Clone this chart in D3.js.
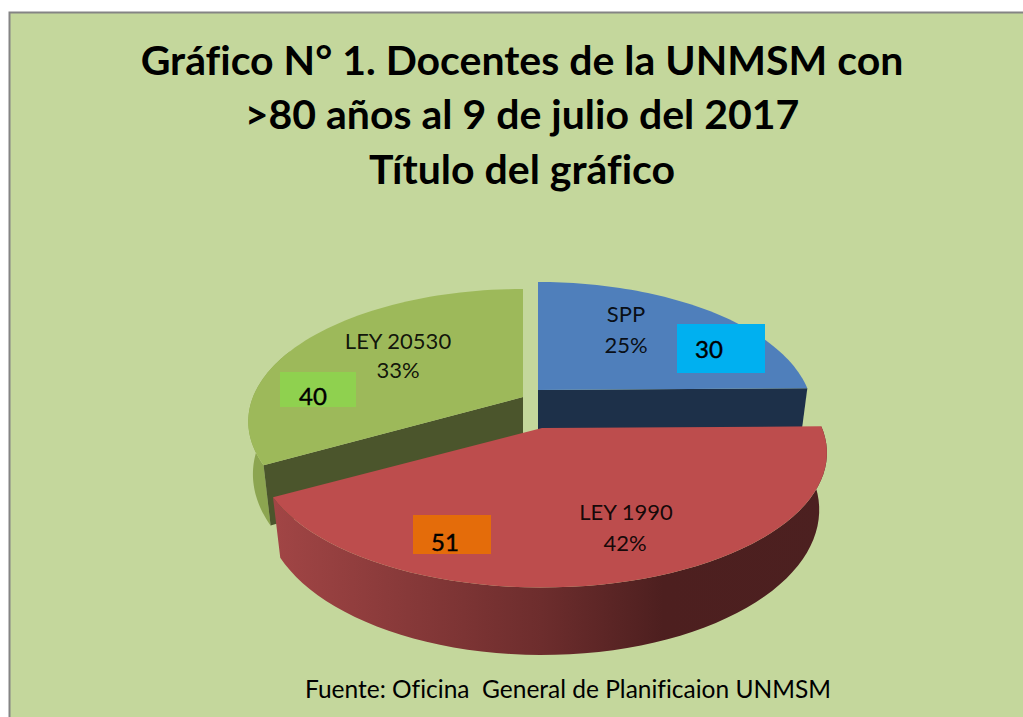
<html>
<head>
<meta charset="utf-8">
<script src="https://d3js.org/d3.v7.min.js"></script>
<style type="text/css">
body { margin: 0; background-color: #fff; overflow: hidden; }
svg { display: block; }
text { font-family: "Lato", "Open Sans", sans-serif; fill: #000; font-variant-ligatures: none; }
</style>
</head>
<body>
<script>
const categories = ["SPP", "LEY 1990", "LEY 20530"];
const values = [30, 51, 40];
const percents = ["25%", "42%", "33%"];
const titleLines = ["Gráfico N° 1. Docentes de la UNMSM con", ">80 años al 9 de julio del 2017", "Título del gráfico"];
const sourceText = "Fuente: Oficina  General de Planificaion UNMSM";

const width = 1023, height = 717;

// one entry per slice, same order as categories
const topColors = ["#4f7fbb", "#bd4d4d", "#9db95a"];
const cutColors = ["#1d3049", "#1d3049", "#4b552c"];
const boxColors = ["#00b0f0", "#e46c0a", "#8fd14f"];
const centers = [[538, 390], [542, 428], [523, 397]];
const radii = [270, 280, 270];
const flat = [128, 130, 128];
const nameAt = [[626, 322], [626, 520], [398, 349]];
const pctAt = [[626, 353], [625, 551], [398, 378]];
const boxes = [[677, 324, 88, 49], [413, 515, 78, 39], [280, 372, 76, 35]];
const boxTextAt = [[709, 358], [445, 551], [313, 405]];

const persp = 0.185, depth = 55, shrink = 0.973;

const svg = d3.select("body").append("svg").attr("width", width).attr("height", height);

// frame only shows on the left and top, the rest runs off the page
svg.append("rect").attr("x", 9.5).attr("y", 12.5).attr("width", 1040).attr("height", 740)
    .attr("fill", "#c4d79c").attr("stroke", "#848484").attr("stroke-width", 2);

const defs = svg.append("defs");
const wallGrad = defs.append("linearGradient").attr("id", "redWall")
    .attr("gradientUnits", "userSpaceOnUse").attr("x1", 275).attr("x2", 830).attr("y1", 0).attr("y2", 0);
wallGrad.append("stop").attr("offset", "0%").attr("stop-color", "#a14545");
wallGrad.append("stop").attr("offset", "48%").attr("stop-color", "#6d2d2d");
wallGrad.append("stop").attr("offset", "70%").attr("stop-color", "#4d1f1f");
wallGrad.append("stop").attr("offset", "100%").attr("stop-color", "#4c2020");

const slices = d3.pie().sort(null).value(d => d)(values);

// point on the rim of slice i, low = on the bottom plane of the disc
function rim(i, a, r, low, narrow = shrink) {
    let u = Math.sin(a) * r, v = -Math.cos(a) * r;
    let s = 1 / (1 - persp * v);
    let x = centers[i][0] + radii[i] * u * s * (low ? narrow : 1);
    let y = centers[i][1] + flat[i] * v * s + (low ? depth * s : 0);
    return [x, y];
}

function arcPoints(i, a0, a1, low) {
    return d3.range(0, 61).map(k => rim(i, a0 + (a1 - a0) * k / 60, 1, low));
}

const line = d3.line();

function drawSlice(i) {
    let d = slices[i];
    let g = svg.append("g");
    let hub = rim(i, 0, 0, false), hubLow = rim(i, 0, 0, true);

    // outside wall
    if (i == 1) {
        let top = arcPoints(i, d.startAngle, d.endAngle, false);
        let bottom = arcPoints(i, d.startAngle, d.endAngle, true).reverse();
        g.append("path").attr("d", line(top.concat(bottom)) + "Z").attr("fill", "url(#redWall)");
    }
    if (i == 2) {
        // green wall flares back out to the rim as it goes round the left side
        let a1 = d.startAngle + 0.9;
        let top = arcPoints(i, d.startAngle, a1, false);
        let bottom = d3.range(0, 61).map(k =>
            rim(i, d.startAngle + (a1 - d.startAngle) * k / 60, 1, true, shrink + (1 - shrink) * k / 60)).reverse();
        g.append("path").attr("d", line(top.concat(bottom)) + "Z").attr("fill", "#8ca550");
    }

    // cut face towards the viewer
    if (i != 1) {
        let a = i == 0 ? d.endAngle : d.startAngle;
        g.append("path")
            .attr("d", line([hub, rim(i, a, 1, false), rim(i, a, 1, true), hubLow]) + "Z")
            .attr("fill", cutColors[i]);
    }

    // top face
    g.append("path")
        .attr("d", line([hub].concat(arcPoints(i, d.startAngle, d.endAngle, false))) + "Z")
        .attr("fill", topColors[i]);
}

// back slices first, the red one sits in front of both
[0, 2, 1].forEach(drawSlice);

categories.forEach(function(c, i) {
    svg.append("text").attr("x", nameAt[i][0]).attr("y", nameAt[i][1])
        .attr("text-anchor", "middle").attr("font-size", 22).attr("fill-opacity", 0.9).text(c);
    svg.append("text").attr("x", pctAt[i][0]).attr("y", pctAt[i][1])
        .attr("text-anchor", "middle").attr("font-size", 22).attr("fill-opacity", 0.9).text(percents[i]);
    svg.append("rect").attr("x", boxes[i][0]).attr("y", boxes[i][1])
        .attr("width", boxes[i][2]).attr("height", boxes[i][3]).attr("fill", boxColors[i]);
    svg.append("text").attr("x", boxTextAt[i][0]).attr("y", boxTextAt[i][1])
        .attr("text-anchor", "middle").attr("font-size", 24).attr("stroke", "#000").attr("stroke-width", 0.4)
        .text(values[i]);
});

titleLines.forEach(function(t, i) {
    svg.append("text").attr("x", 522).attr("y", [75, 129, 184][i])
        .attr("text-anchor", "middle").attr("font-size", 41).attr("font-weight", 700).text(t);
});

svg.append("text").attr("x", 305).attr("y", 698).attr("font-size", 24.5)
    .style("white-space", "pre").text(sourceText);
</script>
</body>
</html>
